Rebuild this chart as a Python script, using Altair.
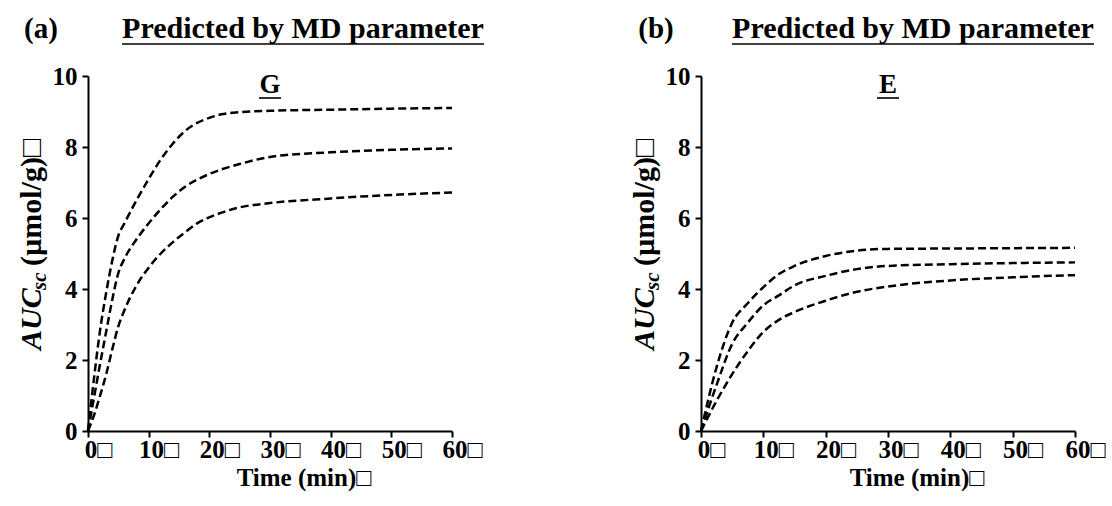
import altair as alt
import pandas as pd

BOX = "\u25a1"
SERIF = "Liberation Serif, Times New Roman, serif"

# Panel (a), parameter G: three predicted AUC curves (µmol/g) against time (min)
time_g = [0, 1, 2, 3, 4, 5, 6, 8, 10, 12, 14, 16, 18, 20, 22, 25, 30, 40, 50, 60]
g_upper = [0, 1.5, 2.85, 3.9, 4.8, 5.5, 5.85, 6.5, 7.1, 7.65, 8.1, 8.45, 8.68, 8.82, 8.92, 8.98, 9.02, 9.05, 9.08, 9.1]
g_middle = [0, 0.95, 1.9, 2.8, 3.7, 4.45, 4.85, 5.4, 5.85, 6.25, 6.6, 6.88, 7.08, 7.24, 7.37, 7.52, 7.72, 7.85, 7.92, 7.96]
g_lower = [0, 0.45, 1.0, 1.6, 2.3, 2.95, 3.4, 4.1, 4.6, 5.0, 5.32, 5.6, 5.85, 6.02, 6.15, 6.3, 6.42, 6.55, 6.65, 6.72]

# Panel (b), parameter E
time_e = [0, 2.5, 5, 7.5, 10, 12.5, 15, 20, 25, 30, 40, 50, 60]
e_upper = [0, 1.8, 3.05, 3.6, 4.05, 4.42, 4.65, 4.93, 5.08, 5.13, 5.14, 5.15, 5.16]
e_middle = [0, 1.3, 2.45, 3.05, 3.54, 3.82, 4.1, 4.37, 4.56, 4.65, 4.7, 4.73, 4.75]
e_lower = [0, 0.85, 1.6, 2.25, 2.79, 3.13, 3.35, 3.67, 3.92, 4.07, 4.24, 4.33, 4.39]

x_ticks = [0, 10, 20, 30, 40, 50, 60]
y_ticks = [0, 2, 4, 6, 8, 10]

PANEL_H = 355
TICK_FONT = 25


def long_table(times, curves):
    rows = []
    for name, values in curves.items():
        rows += [{"time": t, "auc": v, "curve": name} for t, v in zip(times, values)]
    return pd.DataFrame(rows)


def label(text, x, y, size, style="normal", align="center", angle=0):
    return alt.Chart(alt.Data(values=[{}])).mark_text(
        text=text, font=SERIF, fontSize=size, fontWeight="bold", fontStyle=style,
        align=align, baseline="alphabetic", angle=angle, color="black",
    ).encode(x=alt.value(x), y=alt.value(y))


def underline(x1, x2, y):
    return alt.Chart(alt.Data(values=[{}])).mark_rule(color="black", strokeWidth=1.6).encode(
        x=alt.value(x1), x2=alt.value(x2), y=alt.value(y)
    )


def panel(df, width, tag, letter, title_cx, tag_cx):
    lines = alt.Chart(df).mark_line(
        color="black", strokeDash=[8, 4], strokeWidth=2.5, interpolate="monotone"
    ).encode(
        x=alt.X("time:Q", scale=alt.Scale(domain=[0, 60], nice=False),
                axis=alt.Axis(values=x_ticks, title=None, labelFlush=False, labelOverlap=False,
                              labelFont=SERIF, labelFontSize=TICK_FONT, labelFontWeight="bold",
                              labelExpr=f"datum.label + '{BOX}'", labelOffset=10, labelPadding=0)),
        y=alt.Y("auc:Q", scale=alt.Scale(domain=[0, 10], nice=False),
                axis=alt.Axis(values=y_ticks, title=None, labelFlush=False, labelOverlap=False,
                              labelFont=SERIF, labelFontSize=TICK_FONT, labelFontWeight="bold",
                              labelPadding=5)),
        detail="curve:N",
    )
    cx = width / 2
    layers = [
        lines,
        label(tag, tag_cx, -38, 29),
        label("Predicted by MD parameter", title_cx, -38, 30),
        underline(title_cx - 181, title_cx + 181, -32),
        label(letter, cx, 17, 27),
        underline(cx - 11, cx + 11, 22),
        label("AUC", -47, 274, 30, style="italic", align="left", angle=270),
        label("sc", -42, 214, 21, style="italic", align="left", angle=270),
        label("(\u00b5mol/g)" + BOX, -47, 190, 30, align="left", angle=270),
        label("Time (min)" + BOX, 216, 410, 25),
    ]
    return alt.layer(*layers).properties(width=width, height=PANEL_H)


left = panel(
    long_table(time_g, {"upper": g_upper, "middle": g_middle, "lower": g_lower}),
    364, "(a)", "G", 215, -47,
)
right = panel(
    long_table(time_e, {"upper": e_upper, "middle": e_middle, "lower": e_lower}),
    374, "(b)", "E", 212, -45,
)

chart = alt.hconcat(left, right, spacing=249, bounds="flush").properties(
    padding={"left": 16, "top": 14, "right": 0, "bottom": 0}
).configure_view(stroke=None).configure_axis(
    grid=False,
    domainColor="black", domainWidth=2,
    tickColor="black", tickWidth=2, tickSize=6,
    labelFont=SERIF, labelFontWeight="bold", labelFontSize=TICK_FONT, labelColor="black",
)

chart.save("out.html", embed_options={"renderer": "svg", "actions": False})
